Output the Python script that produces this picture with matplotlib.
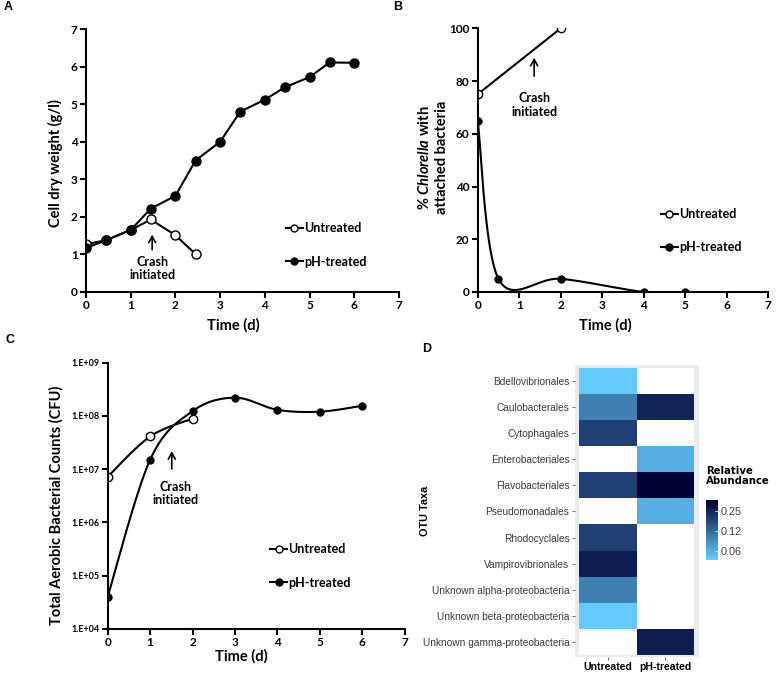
import matplotlib
matplotlib.use('Agg')
import matplotlib.pyplot as plt
import numpy as np
from matplotlib.colors import LinearSegmentedColormap, LogNorm
from matplotlib.ticker import FixedLocator, NullLocator

# panel A: cell dry weight
time_a_ph = [0, 0.45, 1, 1.45, 2, 2.45, 3, 3.45, 4, 4.45, 5, 5.45, 6]
dw_ph = [1.17, 1.38, 1.65, 2.22, 2.56, 3.5, 4.0, 4.8, 5.12, 5.45, 5.72,
         6.11, 6.1]
time_a_un = [0, 0.45, 1, 1.45, 2, 2.45]
dw_un = [1.27, 1.38, 1.65, 1.93, 1.51, 1.01]

# panel B: % Chlorella with attached bacteria
time_b_un = [0, 2]
att_un = [75, 100]
time_b_ph = [0, 0.5, 2, 4, 5]
att_ph = [65, 5, 5, 0, 0]

# panel C: total aerobic bacterial counts
time_c_un = [0, 1, 2]
cfu_un = [7.2e6, 4.1e7, 8.9e7]
time_c_ph = [0, 1, 2, 3, 4, 5, 6]
cfu_ph = [4.0e4, 1.5e7, 1.23e8, 2.2e8, 1.3e8, 1.2e8, 1.55e8]

# panel D: relative abundance heatmap
taxa = ['Bdellovibrionales', 'Caulobacterales', 'Cytophagales',
        'Enterobacteriales', 'Flavobacteriales', 'Pseudomonadales',
        'Rhodocyclales', 'Vampirovibrionales',
        'Unknown alpha-proteobacteria', 'Unknown beta-proteobacteria',
        'Unknown gamma-proteobacteria']
treatments = ['Untreated', 'pH-treated']
abund_un = [0.047, 0.10, 0.19, np.nan, 0.19, np.nan, 0.19, 0.27, 0.10,
            0.047, np.nan]
abund_ph = [np.nan, 0.25, np.nan, 0.063, 0.36, 0.063, np.nan, np.nan,
            np.nan, np.nan, 0.27]
cbar_ticks = [0.0625, 0.125, 0.25]
cbar_labels = ['0.06', '0.12', '0.25']

plt.rcParams['font.family'] = ['Lato', 'DejaVu Sans']
plt.rcParams['font.weight'] = 'bold'
plt.rcParams['axes.labelweight'] = 'bold'
plt.rcParams['mathtext.fontset'] = 'custom'
plt.rcParams['mathtext.rm'] = 'Lato:bold'
plt.rcParams['mathtext.it'] = 'Lato:italic:bold'
plt.rcParams['mathtext.bf'] = 'Lato:bold'

TICK_SIZE = 8.5
LABEL_SIZE = 10.5
NOTE_SIZE = 9


def smooth(x, y, n=40):
    """Spreadsheet-style smoothed line (Catmull-Rom Bezier)."""
    p = np.column_stack([x, y]).astype(float)
    pts = np.vstack([p[0], p, p[-1]])
    t = np.linspace(0, 1, n)[:, None]
    out = []
    for i in range(1, len(pts) - 2):
        p0, p1, p2, p3 = pts[i - 1], pts[i], pts[i + 1], pts[i + 2]
        c1 = p1 + (p2 - p0) / 6.
        c2 = p2 - (p3 - p1) / 6.
        seg = ((1 - t)**3 * p1 + 3 * (1 - t)**2 * t * c1 +
               3 * (1 - t) * t**2 * c2 + t**3 * p2)
        out.append(seg)
    out = np.vstack(out)
    return out[:, 0], out[:, 1]


def style_axes(ax):
    for side in ['top', 'right']:
        ax.spines[side].set_visible(False)
    for side in ['left', 'bottom']:
        ax.spines[side].set_linewidth(1.5)
    ax.tick_params(width=1.5, length=4, labelsize=TICK_SIZE, pad=2)


def add_legend(ax, handles, x, y):
    ax.legend(handles, ['Untreated', 'pH-treated'], loc='center left',
              bbox_to_anchor=(x, y), frameon=False, handlelength=1.3,
              handletextpad=0.1, labelspacing=1.7, borderpad=0,
              borderaxespad=0, prop={'size': NOTE_SIZE, 'weight': 'bold'})


def legend_handles(ax, ms):
    un = ax.plot([], [], '-o', color='k', lw=1.5, ms=ms, mfc='white',
                 mec='k', mew=1)[0]
    ph = ax.plot([], [], '-o', color='k', lw=1.5, ms=ms)[0]
    return [un, ph]


def crash_note(ax, x_arrow, y0, y1, x_text, y_text):
    ax.annotate('', xy=(x_arrow, y1), xytext=(x_arrow, y0),
                arrowprops=dict(arrowstyle='->,head_width=0.25,'
                                'head_length=0.45', lw=1.2, color='k'))
    ax.text(x_text, y_text, 'Crash\ninitiated', ha='center', va='center',
            fontsize=NOTE_SIZE, linespacing=1.15)


fig = plt.figure(figsize=(7.77, 6.74), dpi=100)
W, H = 777., 674.


def px_axes(x0, x1, y0, y1):
    return fig.add_axes([x0 / W, (H - y1) / H, (x1 - x0) / W, (y1 - y0) / H])


# ---- A ----
ax = px_axes(86, 399, 29, 292)
ax.plot(time_a_un, dw_un, '-o', color='k', lw=1.5, ms=6.5, mfc='white',
        mec='k', mew=1)
ax.plot(time_a_ph, dw_ph, '-o', color='k', lw=1.5, ms=6.5, mfc='k',
        mec='k')
ax.set_xlim(0, 7)
ax.set_ylim(0, 7)
ax.set_xticks(range(8))
ax.set_yticks(range(8))
style_axes(ax)
ax.set_xlabel('Time (d)', fontsize=LABEL_SIZE)
ax.set_ylabel('Cell dry weight (g/l)', fontsize=LABEL_SIZE)
ax.xaxis.set_label_coords(0.47, -0.1)
ax.yaxis.set_label_coords(-0.075, 0.49)
crash_note(ax, 1.48, 1.05, 1.6, 1.48, 0.62)
add_legend(ax, legend_handles(ax, 5), 0.64, 0.179)

# ---- B ----
ax = px_axes(477.7, 768.3, 28.3, 292)
xs, ys = smooth(time_b_ph, att_ph)
ax.plot(xs, ys, '-', color='k', lw=1.5)
ax.plot(time_b_ph, att_ph, 'o', color='k', ms=5)
ax.plot(time_b_un, att_un, '-o', color='k', lw=1.5, ms=6, mfc='white',
        mec='k', mew=1)
ax.set_xlim(0, 7)
ax.set_ylim(0, 100)
ax.set_xticks(range(8))
ax.set_yticks(range(0, 101, 20))
style_axes(ax)
ax.set_xlabel('Time (d)', fontsize=LABEL_SIZE)
ax.set_ylabel('% $\\mathit{Chlorella}$ with\nattached bacteria',
              fontsize=LABEL_SIZE, linespacing=1.2)
ax.xaxis.set_label_coords(0.438, -0.1)
ax.yaxis.set_label_coords(-0.1, 0.51)
crash_note(ax, 1.36, 80.8, 89.9, 1.38, 70.9)
add_legend(ax, legend_handles(ax, 5), 0.632, 0.232)

# ---- C ----
ax = px_axes(107.7, 404.7, 362.7, 628.7)
xs, ys = smooth(time_c_ph, np.log10(cfu_ph))
ax.plot(xs, 10**ys, '-', color='k', lw=1.5)
ax.plot(time_c_ph, cfu_ph, 'o', color='k', ms=5)
xs, ys = smooth(time_c_un, np.log10(cfu_un))
ax.plot(xs, 10**ys, '-', color='k', lw=1.5)
ax.plot(time_c_un, cfu_un, 'o', color='k', ms=6, mfc='white', mec='k',
        mew=1)
ax.set_yscale('log')
ax.set_xlim(0, 7)
ax.set_ylim(1e4, 1e9)
ax.set_xticks(range(8))
decades = [1e4, 1e5, 1e6, 1e7, 1e8, 1e9]
ax.yaxis.set_major_locator(FixedLocator(decades))
ax.yaxis.set_minor_locator(NullLocator())
ax.set_yticklabels(['1.E+0%d' % int(np.log10(v)) for v in decades])
style_axes(ax)
ax.tick_params(axis='y', labelsize=6.5)
ax.set_xlabel('Time (d)', fontsize=LABEL_SIZE)
ax.set_ylabel('Total Aerobic Bacterial Counts (CFU)', fontsize=LABEL_SIZE)
ax.xaxis.set_label_coords(0.451, -0.075)
ax.yaxis.set_label_coords(-0.15, 0.465)
crash_note(ax, 1.51, 8.9e6, 2.45e7, 1.59, 3.5e6)
add_legend(ax, legend_handles(ax, 5), 0.548, 0.236)

# ---- D ----
hm_font = 'Liberation Sans'
ax = px_axes(575, 699.3, 365, 656.7)
ax.set_facecolor('#EBEBEB')
cmap = LinearSegmentedColormap.from_list('abund', ['#66CCFF', '#000033'])
cmap.set_bad('white')
grid = np.ma.masked_invalid(np.column_stack([abund_un, abund_ph]))
norm = LogNorm(vmin=0.046, vmax=0.36)
xe = np.arange(len(treatments) + 1) - 0.5
ye = np.arange(len(taxa) + 1) - 0.5
mesh = ax.pcolormesh(xe, ye, grid, cmap=cmap, norm=norm)
ax.set_xlim(-0.57, 1.59)
ax.set_ylim(len(taxa) - 0.44, -0.6)
for s in ax.spines.values():
    s.set_visible(False)
ax.set_yticks(range(len(taxa)))
ax.set_yticklabels(taxa, fontfamily=hm_font, fontweight='normal',
                   fontsize=7.3, color='#3a3a3a')
ax.set_xticks(range(len(treatments)))
ax.set_xticklabels(treatments, fontfamily=hm_font, fontweight='bold',
                   fontsize=7.6, color='black')
ax.tick_params(length=2.5, width=0.6, color='#555555', pad=1.5)
ax.set_ylabel('OTU Taxa', fontfamily=hm_font, fontweight='bold',
              fontsize=7.8)
ax.yaxis.set_label_coords(-1.17, 0.5)

cax = px_axes(706, 718, 500, 560)
cb = fig.colorbar(mesh, cax=cax)
cb.outline.set_visible(False)
cb.set_ticks(cbar_ticks)
cb.set_ticklabels(cbar_labels)
cb.ax.yaxis.set_minor_locator(NullLocator())
cb.ax.tick_params(length=2.5, width=0.6, color='white', direction='in',
                  pad=2)
for lab in cb.ax.get_yticklabels():
    lab.set_fontfamily(hm_font)
    lab.set_fontweight('normal')
    lab.set_fontsize(7.8)
    lab.set_color('#3a3a3a')
fig.text(706 / W, 1 - 466 / H, 'Relative\nAbundance', ha='left', va='top',
         fontfamily='DejaVu Sans', fontweight='bold', fontsize=7.3,
         linespacing=1.0)

# panel letters
for letter, x, y in [('A', 4, 1), ('B', 393, 1), ('C', 5, 334),
                     ('D', 422, 343)]:
    fig.text(x / W, 1 - y / H, letter, ha='left', va='top',
             fontfamily='Liberation Sans', fontweight='bold', fontsize=9)

fig.savefig('out.png', dpi=100)
